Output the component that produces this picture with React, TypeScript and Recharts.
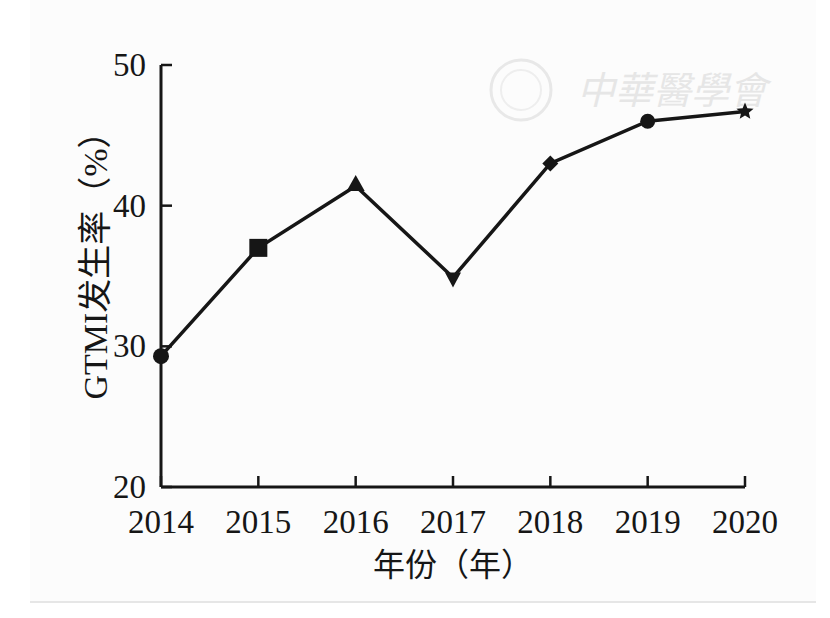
import React from 'react';
import { LineChart, Line, XAxis, YAxis } from 'recharts';

const years = ['2014', '2015', '2016', '2017', '2018', '2019', '2020'];
const rates = [29.3, 37.0, 41.4, 34.9, 43.0, 46.0, 46.7];
const yTicks = [20, 30, 40, 50];
const markers = ['circle', 'square', 'triangle', 'triangleDown', 'diamond', 'octagon', 'star'];

const data = years.map((year, i) => ({ year, rate: rates[i], marker: markers[i] }));

const INK = '#161616';
const SERIF = '"Liberation Serif", "Times New Roman", "Noto Sans CJK SC", serif';
const CJK = '"Liberation Serif", "Noto Sans CJK SC", serif';

const starPoints = (cx: number, cy: number, r: number) => {
  const pts: string[] = [];
  for (let k = 0; k < 10; k++) {
    const rr = k % 2 === 0 ? r : r * 0.45;
    const a = -Math.PI / 2 + (k * Math.PI) / 5;
    pts.push(`${cx + rr * Math.cos(a)},${cy + rr * Math.sin(a)}`);
  }
  return pts.join(' ');
};

const MarkerDot = (props: any) => {
  const { cx, cy, payload, index } = props;
  if (cx == null || cy == null) return <g key={index} />;
  const m = payload.marker;
  let shape;
  if (m === 'circle') shape = <circle cx={cx} cy={cy} r={8} fill={INK} />;
  else if (m === 'square') shape = <rect x={cx - 9} y={cy - 9} width={18} height={18} fill={INK} />;
  else if (m === 'triangle') shape = <polygon points={`${cx},${cy - 11} ${cx - 9},${cy + 5} ${cx + 9},${cy + 5}`} fill={INK} />;
  else if (m === 'triangleDown') shape = <polygon points={`${cx - 8},${cy - 5} ${cx + 8},${cy - 5} ${cx},${cy + 10}`} fill={INK} />;
  else if (m === 'diamond') shape = <polygon points={`${cx},${cy - 8} ${cx + 8},${cy} ${cx},${cy + 8} ${cx - 8},${cy}`} fill={INK} />;
  else if (m === 'octagon') shape = <circle cx={cx} cy={cy} r={7.5} fill={INK} />;
  else shape = <polygon points={starPoints(cx, cy, 9)} fill={INK} />;
  return <g key={index}>{shape}</g>;
};

const XTick = (props: any) => {
  const { x, y, payload } = props;
  return (
    <g>
      <line x1={x} y1={y} x2={x} y2={y - 11} stroke={INK} strokeWidth={2.5} />
      <text x={x} y={y + 46} textAnchor="middle" fontFamily={SERIF} fontSize={33} fill={INK}>
        {payload.value}
      </text>
    </g>
  );
};

const YTick = (props: any) => {
  const { x, y, payload } = props;
  return (
    <g>
      <line x1={x} y1={y} x2={x + 11} y2={y} stroke={INK} strokeWidth={2.5} />
      <text x={x - 15} y={y + 11} textAnchor="end" fontFamily={SERIF} fontSize={33} fill={INK}>
        {payload.value}
      </text>
    </g>
  );
};

export default function App() {
  return (
    <div style={{ position: 'absolute', top: 0, left: 0, width: 830, height: 618, background: '#fff' }}>
      <svg width={830} height={618} style={{ position: 'absolute', top: 0, left: 0 }}>
        <rect x={30} y={0} width={786} height={602} fill="#fcfcfc" />
        <line x1={30} y1={602} x2={816} y2={602} stroke="#e6e6e6" strokeWidth={2} />
        {/* faint watermark */}
        <circle cx={521} cy={90} r={30} fill="none" stroke="#e8e8e8" strokeWidth={3} />
        <circle cx={521} cy={90} r={20} fill="none" stroke="#eeeeee" strokeWidth={2} />
        <text x={672} y={104} textAnchor="middle" fontFamily='"Noto Sans CJK TC", sans-serif' fontSize={38} fill="#e6e6e6" fontStyle="italic">
          中華醫學會
        </text>
      </svg>
      <div style={{ position: 'absolute', top: 0, left: 0 }}>
        <LineChart width={830} height={618} data={data} margin={{ top: 65, right: 85, bottom: 81, left: 101 }}>
          <XAxis
            dataKey="year"
            type="category"
            height={50}
            tickSize={0}
            tickMargin={0}
            tickLine={false}
            axisLine={{ stroke: INK, strokeWidth: 3 }}
            tick={<XTick />}
            interval={0}
            label={{
              value: '年份（年）',
              position: 'bottom',
              offset: 0,
              content: (p: any) => {
                const vb = p.viewBox;
                return (
                  <text x={vb.x + vb.width / 2} y={vb.y + 89} textAnchor="middle" fontFamily={CJK} fontSize={32} fill={INK}>
                    年份（年）
                  </text>
                );
              },
            }}
          />
          <YAxis
            type="number"
            domain={[20, 50]}
            ticks={yTicks}
            width={60}
            tickSize={0}
            tickMargin={0}
            tickLine={false}
            axisLine={{ stroke: INK, strokeWidth: 3 }}
            tick={<YTick />}
            interval={0}
            label={{
              value: 'GTMI发生率（%）',
              position: 'left',
              content: (p: any) => {
                const vb = p.viewBox;
                const cx = vb.x - 6;
                const cy = vb.y + vb.height / 2 - 19;
                return (
                  <text x={cx} y={cy} transform={`rotate(-90 ${cx} ${cy})`} textAnchor="middle" dominantBaseline="central" fontFamily={CJK} fontSize={34} fill={INK}>
                    GTMI发生率（%）
                  </text>
                );
              },
            }}
          />
          <Line
            type="linear"
            dataKey="rate"
            stroke={INK}
            strokeWidth={3.5}
            dot={<MarkerDot />}
            activeDot={false}
            isAnimationActive={false}
          />
        </LineChart>
      </div>
    </div>
  );
}
